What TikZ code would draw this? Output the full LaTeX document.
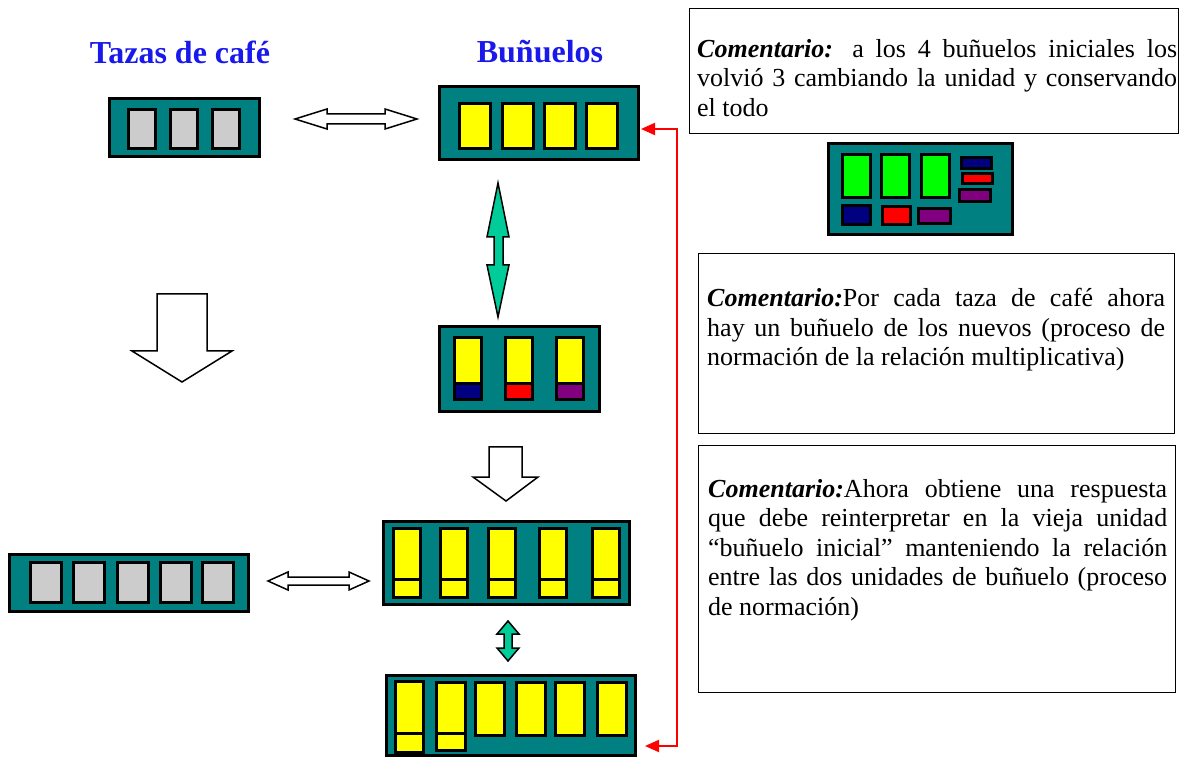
\documentclass[tikz,border=0pt]{standalone}
\usepackage{fontspec}
\setmainfont{Liberation Serif}
\usetikzlibrary{positioning, arrows.meta}
\definecolor{trayTeal}{RGB}{0, 128, 128}
\definecolor{bunYellow}{RGB}{255, 255, 0}
\definecolor{cupGray}{RGB}{204, 204, 204}
\definecolor{newGreen}{RGB}{0, 255, 0}
\definecolor{unitNavy}{RGB}{0, 0, 128}
\definecolor{unitRed}{RGB}{255, 0, 0}
\definecolor{unitPurple}{RGB}{128, 0, 128}
\definecolor{linkAqua}{RGB}{0, 204, 153}
\definecolor{titleBlue}{RGB}{25, 25, 235}
\tikzset{
    tray/.style={
        rectangle,
        draw=black,
        line width=3pt,
        fill=trayTeal,
        inner sep=0pt
    },
    piece/.style={
        rectangle,
        draw=black,
        line width=3pt,
        inner sep=0pt
    },
    cup/.style={piece, fill=cupGray},
    bun/.style={piece, fill=bunYellow},
    title/.style={
        font=\fontsize{32}{36}\selectfont\bfseries,
        text=titleBlue,
        inner sep=0pt
    },
    notebox/.style={
        rectangle,
        draw=black,
        line width=1.3pt,
        inner sep=0pt,
        anchor=north west
    },
    notetext/.style={
        font=\fontsize{26}{29.5}\selectfont,
        align=justify,
        inner sep=0pt
    },
    hollow/.style={
        draw=black,
        line width=1.5pt,
        fill=white
    },
    swap/.style={
        draw=black,
        line width=1.5pt,
        fill=linkAqua
    },
    redlink/.style={
        <->,
        >={Triangle[length=14pt, width=12pt]},
        draw=unitRed,
        line width=2pt
    }
}

\begin{document}
\begin{tikzpicture}[x=1pt, y=-1pt]
  \useasboundingbox (0,0) rectangle (1179,759);

  % Titles
  \node[title] (tazas) at (180,52) {Tazas de café};
  \node[title] (bunuelos) at (540,52) {Buñuelos};

  % Three cups
  \node[tray, minimum width=150pt, minimum height=58pt] (cupsA) at (184.5,127.5) {};
  \foreach \x [count=\k] in {142,184,226}
    \node[cup, minimum width=27pt, minimum height=39pt] (cupA\k) at (\x,129) {};

  % Four initial bunuelos
  \node[tray, minimum width=199pt, minimum height=73pt] (bunA) at (539,123) {};
  \foreach \x [count=\k] in {475,517.5,559.5,601.5}
    \node[bun, minimum width=31pt, minimum height=45pt] (bunA\k) at (\x,126) {};

  % New unit
  \node[tray, minimum width=184pt, minimum height=91pt] (unitTray) at (920.5,189) {};
  \foreach \x [count=\k] in {856.5,895.5,935}
    \node[piece, fill=newGreen, minimum width=28pt, minimum height=43pt] (green\k) at (\x,176) {};
  \node[piece, fill=unitNavy, minimum width=30pt, minimum height=11pt] (stackN) at (976.5,163) {};
  \node[piece, fill=unitRed, minimum width=30pt, minimum height=10pt] (stackR) at (977,178.5) {};
  \node[piece, fill=unitPurple, minimum width=31pt, minimum height=12pt] (stackP) at (975,195.5) {};
  \node[piece, fill=unitNavy, minimum width=28pt, minimum height=19pt] (rowN) at (856.5,215) {};
  \node[piece, fill=unitRed, minimum width=28pt, minimum height=18pt] (rowR) at (896.5,215.5) {};
  \node[piece, fill=unitPurple, minimum width=32pt, minimum height=15pt] (rowP) at (934.5,216) {};

  % Three new bunuelos
  \node[tray, minimum width=160pt, minimum height=85pt] (bunB) at (519.5,369) {};
  \foreach \x/\c [count=\k] in {468/unitNavy,519/unitRed,570/unitPurple} {
    \node[bun, minimum width=27pt, minimum height=46pt] (bunB\k) at (\x,361) {};
    \node[piece, fill=\c, minimum width=27pt, minimum height=16pt] (partB\k) at (\x,392) {};
  }

  % Five bunuelos
  \node[tray, minimum width=246pt, minimum height=83pt] (bunC) at (506.5,563) {};
  \foreach \x [count=\k] in {407,454,502,553,605.5} {
    \node[bun, minimum width=27pt, minimum height=51pt] (bunC\k) at (\x,553.5) {};
    \node[bun, minimum width=27pt, minimum height=18pt] (partC\k) at (\x,588) {};
  }

  % Five cups
  \node[tray, minimum width=239pt, minimum height=57pt] (cupsB) at (129,583) {};
  \foreach \x [count=\k] in {46,89,133,176,218}
    \node[cup, minimum width=31pt, minimum height=40pt] (cupB\k) at (\x,582.5) {};

  % Six bunuelos
  \node[tray, minimum width=249pt, minimum height=80pt] (bunD) at (511,715.5) {};
  \node[bun, minimum width=28pt, minimum height=52pt] (bunD1) at (409.5,707) {};
  \node[bun, minimum width=28pt, minimum height=19pt] (partD1) at (409.5,742.5) {};
  \node[bun, minimum width=29pt, minimum height=51pt] (bunD2) at (451,707.5) {};
  \node[bun, minimum width=29pt, minimum height=17pt] (partD2) at (451,741.5) {};
  \foreach \x [count=\k from 3] in {490,531,570,611.5}
    \node[bun, minimum width=29pt, minimum height=53pt] (bunD\k) at (\x,709) {};

  % Block arrows
  \draw[hollow] (295,119) -- (327,109) -- (327,114) -- (385,114) -- (385,109) -- (417,119)
    -- (385,129) -- (385,124) -- (327,124) -- (327,129) -- cycle;
  \draw[hollow] (268,581) -- (288,572) -- (288,577) -- (349,577) -- (349,572) -- (369,581)
    -- (349,590) -- (349,585) -- (288,585) -- (288,590) -- cycle;
  \draw[hollow] (157,294) -- (207,294) -- (207,351) -- (232,351) -- (182,382) -- (132,351)
    -- (157,351) -- cycle;
  \draw[hollow] (489,447) -- (522,447) -- (522,477) -- (538,477) -- (506,501) -- (473,477)
    -- (489,477) -- cycle;
  \draw[swap] (498,183) -- (509,237) -- (503,237) -- (503,265) -- (509,265) -- (498,317)
    -- (487,265) -- (494,265) -- (494,237) -- (487,237) -- cycle;
  \draw[swap] (508,621) -- (519,634) -- (512,634) -- (512,648) -- (519,648) -- (508,661)
    -- (497,648) -- (504,648) -- (504,634) -- (497,634) -- cycle;

  % Red link
  \draw[redlink] ([xshift=1pt, yshift=-6pt]bunA.east) -- ++(36,0)
    |- ([xshift=8pt, yshift=-30.5pt]bunD.east);

  % Comments
  \node[notebox, minimum width=489pt, minimum height=125pt] (note1) at (689,8) {};
  \node[notetext, text width=480pt, below right=31pt and 8pt of note1.north west] (text1)
    {{\bfseries\itshape Comentario:} a los 4 buñuelos iniciales los\linebreak
     volvió 3 cambiando la unidad y conservando\linebreak el todo};

  \node[notebox, minimum width=476pt, minimum height=180pt] (note2) at (698,253) {};
  \node[notetext, text width=458pt, below right=35pt and 9pt of note2.north west] (text2)
    {{\bfseries\itshape Comentario:}Por cada taza de café ahora\linebreak
     hay un buñuelo de los nuevos (proceso de\linebreak
     normación de la relación multiplicativa)};

  \node[notebox, minimum width=477pt, minimum height=247pt] (note3) at (698,445) {};
  \node[notetext, text width=459pt, below right=34pt and 10pt of note3.north west] (text3)
    {{\bfseries\itshape Comentario:}Ahora obtiene una respuesta\linebreak
     que debe reinterpretar en la vieja unidad\linebreak
     “buñuelo inicial” manteniendo la relación\linebreak
     entre las dos unidades de buñuelo (proceso\linebreak
     de normación)};
\end{tikzpicture}
\end{document}
